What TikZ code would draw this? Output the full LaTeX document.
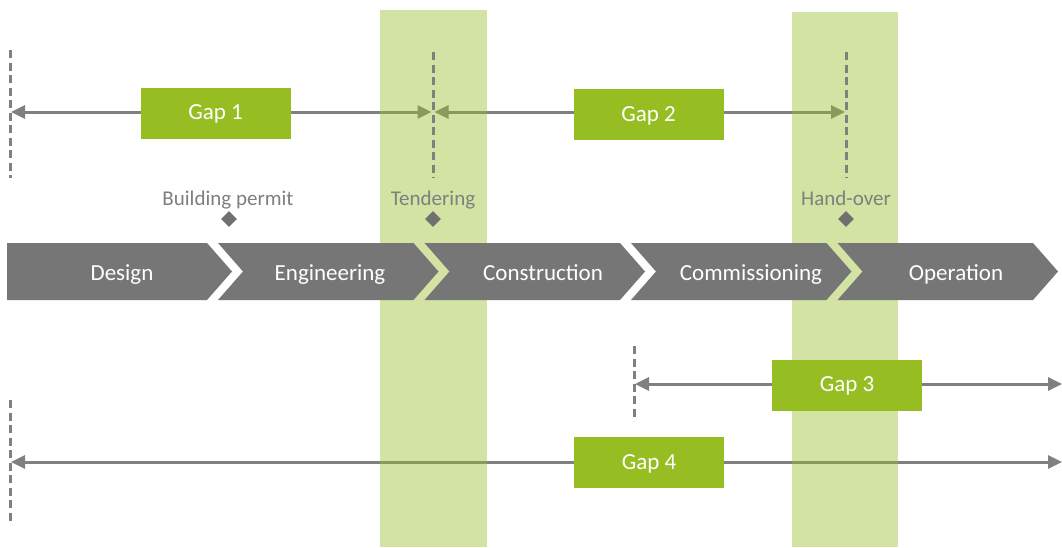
\documentclass[tikz,border=0pt]{standalone}
\usepackage{fontspec}
\setmainfont{Carlito}
\usetikzlibrary{arrows.meta,shapes.geometric}
\definecolor{chevgray}{RGB}{118,118,118}
\definecolor{linegray}{RGB}{128,128,128}
\definecolor{txtgray}{RGB}{127,127,127}
\definecolor{diagray}{RGB}{112,112,112}
\definecolor{gapgreen}{RGB}{150,190,34}
\definecolor{bandgreen}{RGB}{150,190,40}
\tikzset{
  chevshape/.style={fill=chevgray, draw=none},
  chevtext/.style={text=white, font=\fontsize{23}{26}\selectfont, inner sep=0pt, anchor=base},
  gapbox/.style={fill=gapgreen, text=white, minimum width=150pt, minimum height=51pt, inner sep=0pt, text height=13pt, text depth=0pt, font=\fontsize{23}{26}\selectfont},
  gaparrow/.style={draw=linegray, line width=3pt, {Triangle[length=14pt,width=13pt]}-{Triangle[length=14pt,width=13pt]}},
  dashline/.style={draw=linegray, line width=3pt, dash pattern=on 8pt off 4.5pt},
  band/.style={fill=bandgreen, fill opacity=0.42, draw=none},
  mslabel/.style={text=txtgray, font=\fontsize{21}{24}\selectfont, inner sep=0pt, anchor=base},
  msmark/.style={diamond, fill=diagray, minimum size=16pt, inner sep=0pt},
}
\begin{document}
\begin{tikzpicture}[x=1pt,y=-1pt]
\useasboundingbox (0,0) rectangle (1062,547);
\fill[white] (0,0) rectangle (1062,547);

% coordinates for the gap spans
\coordinate (g1l) at (10,112);
\coordinate (g1r) at (433,112);
\coordinate (g2l) at (433,112);
\coordinate (g2r) at (846,112);
\coordinate (g3l) at (634,384);
\coordinate (g3r) at (1062,384);
\coordinate (g4l) at (10,462);
\coordinate (g4r) at (1062,462);

% gap arrows
\draw[gaparrow, shorten <=1pt, shorten >=1.5pt] (g1l) -- (g1r);
\draw[gaparrow, shorten <=1.5pt, shorten >=1pt] (g2l) -- (g2r);
\draw[gaparrow, shorten <=1pt, shorten >=0pt] (g3l) -- (g3r);
\draw[gaparrow, shorten <=1pt, shorten >=0pt] (g4l) -- (g4r);

% translucent bands
\fill[band] (380,10) rectangle (487,547);
\fill[band] (792,12) rectangle (898,547);

% chevrons
\fill[chevshape] (7,243) -- (207,243) -- (232,271.5) -- (207,300) -- (7,300) -- cycle;
\foreach \L in {218,424.5,631,837.5}{
  \fill[chevshape] (\L,243) -- (\L+195.5,243) -- (\L+220.5,271.5) -- (\L+195.5,300) -- (\L,300) -- (\L+25,271.5) -- cycle;
}
\node[chevtext] (design) at (122,280) {Design};
\node[chevtext] (engineering) at (330,280) {Engineering};
\node[chevtext] (construction) at (543,280) {Construction};
\node[chevtext] (commissioning) at (751,280) {Commissioning};
\node[chevtext] (operation) at (956,280) {Operation};

% dashed markers
\coordinate (d1a) at (10,50);  \coordinate (d1b) at (10,178);
\coordinate (d2a) at (433,52); \coordinate (d2b) at (433,178);
\coordinate (d3a) at (846,52); \coordinate (d3b) at (846,178);
\coordinate (d4a) at (634,346); \coordinate (d4b) at (634,421);
\coordinate (d5a) at (10,400); \coordinate (d5b) at (10,523);
\draw[dashline] (d1a) -- (d1b);
\draw[dashline] (d2a) -- (d2b);
\draw[dashline] (d3a) -- (d3b);
\draw[dashline] (d4a) -- (d4b);
\draw[dashline] (d5a) -- (d5b);

% milestones
\node[mslabel] (permit) at (228,205) {Building permit};
\node[mslabel] (tender) at (433,205) {Tendering};
\node[mslabel] (handover) at (846,205) {Hand-over};
\node[msmark] (m1) at (229,219) {};
\node[msmark] (m2) at (433,219) {};
\node[msmark] (m3) at (846,219) {};

% gap boxes
\node[gapbox] (gap1) at (215.5,113) {Gap 1};
\node[gapbox] (gap2) at (648.5,114.5) {Gap 2};
\node[gapbox] (gap3) at (847,385) {Gap 3};
\node[gapbox] (gap4) at (649,462.5) {Gap 4};
\end{tikzpicture}
\end{document}
